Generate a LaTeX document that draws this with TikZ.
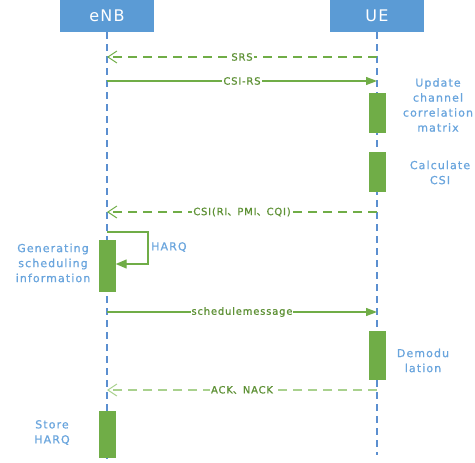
\documentclass[tikz,border=0pt]{standalone}
\usepackage{fontspec}
\setmainfont{DejaVu Sans}
\newfontfamily\cjk[FakeBold=1]{Noto Sans CJK SC}
\newfontfamily\sidefont[LetterSpace=10,FakeBold=1]{DejaVu Sans}
\newfontfamily\hdrfont[LetterSpace=8]{DejaVu Sans}
\newfontfamily\lblfont[LetterSpace=8,FakeBold=0.8]{DejaVu Sans}
\newcommand{\dun}{{\cjk 、}}
\usetikzlibrary{arrows.meta}
\definecolor{hdrblue}{HTML}{5B9BD5}
\definecolor{lifeblue}{HTML}{5B8FD0}
\definecolor{actgreen}{HTML}{70AD47}
\definecolor{lblgreen}{HTML}{5E9135}
\definecolor{lightgreen}{HTML}{A9D18E}
\definecolor{sideblue}{HTML}{6AA5DD}
\tikzset{
  header/.style={fill=hdrblue, draw=none, text=white, minimum width=94pt, minimum height=32pt, inner sep=0pt, font=\hdrfont\fontsize{16}{18}\selectfont},
  lifeline/.style={draw=lifeblue, line width=1.5pt, dash pattern=on 7pt off 5pt},
  actbox/.style={fill=actgreen, draw=none, minimum width=17pt, inner sep=0pt},
  msg/.style={draw=actgreen, line width=1.3pt, -{Triangle[length=11pt,width=8pt]}},
  reply/.style={draw=actgreen, line width=1.2pt, dash pattern=on 9pt off 6pt, -{Straight Barb[length=9pt,width=12pt,line width=1pt]}},
  lightreply/.style={draw=lightgreen, line width=1.6pt, dash pattern=on 9pt off 6pt, -{Straight Barb[length=9pt,width=12pt,line width=1pt]}},
  msglbl/.style={fill=white, inner sep=1pt, text=lblgreen, font=\lblfont\fontsize{10}{11}\selectfont},
  sidelbl/.style={text=sideblue, align=center, inner sep=0pt, font=\sidefont\fontsize{11}{15}\selectfont},
}
\begin{document}
\begin{tikzpicture}[x=1pt,y=-1pt]
\useasboundingbox (0,0) rectangle (475,463);
% headers
\node[header] (enb) at (107,16) {eNB};
\node[header] (ue) at (377,16) {UE};
% lifeline ends
\coordinate (enbend) at (107,460);
\coordinate (ueend) at (377,455);
\draw[lifeline] (enb.south) -- (enbend);
\draw[lifeline] (ue.south) -- (ueend);
% activation boxes
\node[actbox, minimum height=40pt] (ua1) at (377.5,113) {};
\node[actbox, minimum height=40pt] (ua2) at (377.5,172) {};
\node[actbox, minimum height=52pt] (ea1) at (107,266) {};
\node[actbox, minimum height=49pt] (ua3) at (377.5,355.5) {};
\node[actbox, minimum height=47pt] (ea2) at (107,434.5) {};
% message endpoints
\coordinate (e1) at (107,57); \coordinate (u1) at (377,57);
\coordinate (e2) at (107,81); \coordinate (u2) at (377,81);
\coordinate (e3) at (107,212); \coordinate (u3) at (377,212);
\coordinate (e4) at (107,312); \coordinate (u4) at (377,312);
\coordinate (e5) at (107,390); \coordinate (u5) at (377,390);
\coordinate (h1) at (107,232); \coordinate (h2) at (148,232); \coordinate (h3) at (148,264);
% messages
\draw[reply] (u1) -- node[msglbl]{SRS} (e1);
\draw[msg] (e2) -- node[msglbl]{CSI-RS} (u2);
\draw[reply] (u3) -- node[msglbl]{CSI(RI\dun PMI\dun CQI)} (e3);
\draw[actgreen, line width=1.3pt, -{Triangle[length=11pt,width=9pt]}] (h1) -- (h2) -- (h3) -- (h3 -| ea1.east);
\node[sidelbl, anchor=west] (harq) at (151,247) {HARQ};
\draw[msg] (e4) -- node[msglbl]{schedulemessage} (u4);
\draw[lightreply] (u5) -- node[msglbl]{ACK\dun NACK} (e5);
% side labels
\node[sidelbl] (t1) at (438,105) {Update\\channel\\correlation\\matrix};
\node[sidelbl] (t2) at (440,172.5) {Calculate\\CSI};
\node[sidelbl] (t3) at (53,263) {Generating\\scheduling\\information};
\node[sidelbl] (t4) at (423,360.5) {Demodu\\lation};
\node[sidelbl] (t5) at (52,432.5) {Store\\HARQ};
\end{tikzpicture}
\end{document}
